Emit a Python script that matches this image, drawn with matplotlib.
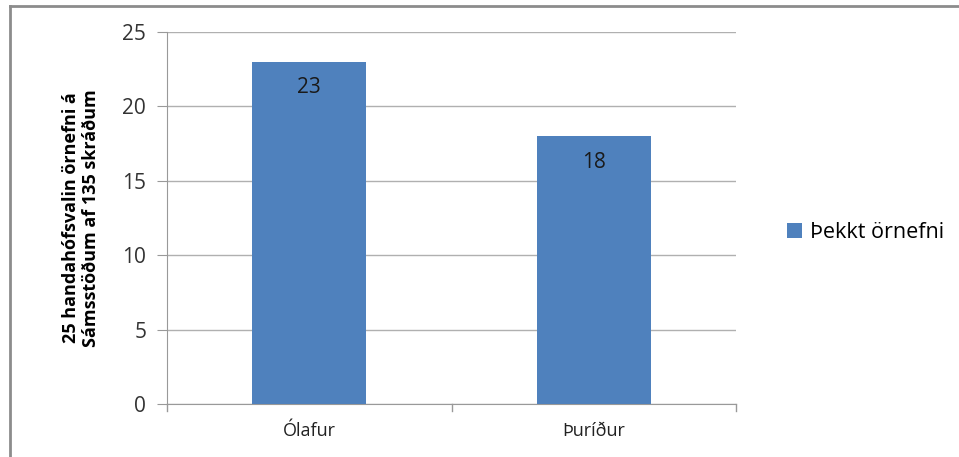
import matplotlib
matplotlib.use("Agg")
import matplotlib.pyplot as plt
from matplotlib.lines import Line2D

categories = ["Ólafur", "Þuríður"]
values = [23, 18]
series_name = "Þekkt örnefni"
yticks = [0, 5, 10, 15, 20, 25]
ylabel = "25 handahófsvalin örnefni á\nSámsstöðum af 135 skráðum"

plt.rcParams['font.family'] = ['Open Sans', 'DejaVu Sans']

fig = plt.figure(figsize=(9.59, 4.57), dpi=100)
ax = fig.add_axes([167/959, 1-404/457, (736-167)/959, (404-32)/457])

x = list(range(len(categories)))
bars = ax.bar(x, values, width=0.4, color="#4F81BD", label=series_name, zorder=3)
for xi, v in zip(x, values):
    ax.annotate(str(v), (xi, v), xytext=(0, -26), textcoords="offset pixels",
                ha="center", va="center", fontsize=15, color="#1a1a1a", zorder=4)

ax.set_xlim(-0.5, len(categories) - 0.5)
ax.set_ylim(0, 25)
ax.set_yticks(yticks)
ax.set_yticklabels([str(t) for t in yticks], fontsize=15, color="#333333")
ax.yaxis.grid(True, color="#b0b0b0", linewidth=1, zorder=0)
ax.set_xticks([xi for xi in x])
ax.set_xticklabels(categories, fontsize=13, color="#222222")
ax.tick_params(axis="x", length=0, pad=13)
ax.tick_params(axis="y", length=7, color="#999999", pad=8)

# category boundary ticks on x axis
for b in [-0.5, 0.5, 1.5]:
    ax.plot([b, b], [0, -0.5], color="#999999", lw=1, clip_on=False, zorder=3)

for s in ["top", "right"]:
    ax.spines[s].set_visible(False)
ax.spines["left"].set_color("#999999")
ax.spines["bottom"].set_color("#999999")

ax.set_ylabel(ylabel, fontsize=13, fontweight="bold", color="black", labelpad=16, linespacing=1.15)

leg = fig.legend(handles=[bars], labels=[series_name], loc="center left",
                 bbox_to_anchor=(768/959, 1-233/457), frameon=False, fontsize=15.5,
                 handlelength=0.7, handleheight=0.7, handletextpad=0.35)

# outer chart border (top and left)
fig.add_artist(Line2D([10/959, 1.0], [1-6/457, 1-6/457], color="#8c8c8c", lw=2, transform=fig.transFigure))
fig.add_artist(Line2D([10/959, 10/959], [0, 1-6/457], color="#8c8c8c", lw=2, transform=fig.transFigure))

fig.savefig("out.png", dpi=100)
